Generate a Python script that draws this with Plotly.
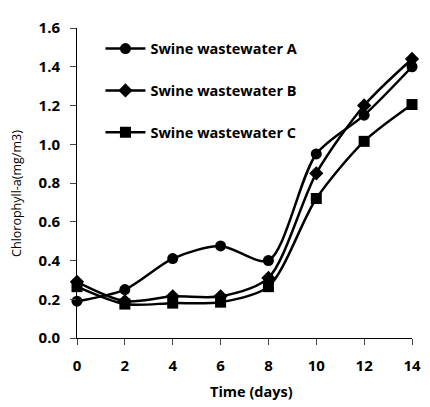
import plotly.graph_objects as go

days = [0, 2, 4, 6, 8, 10, 12, 14]
series_a = [0.19, 0.25, 0.41, 0.475, 0.40, 0.95, 1.15, 1.40]
series_b = [0.29, 0.19, 0.215, 0.215, 0.31, 0.85, 1.20, 1.44]
series_c = [0.265, 0.175, 0.18, 0.185, 0.265, 0.72, 1.015, 1.205]
names = ["Swine wastewater A", "Swine wastewater B", "Swine wastewater C"]
y_ticks = [0.0, 0.2, 0.4, 0.6, 0.8, 1.0, 1.2, 1.4, 1.6]
x_ticks = [0, 2, 4, 6, 8, 10, 12, 14]
x_title = "Time (days)"
y_title = "Chlorophyll-a(mg/m3)"

fig = go.Figure()
for i, (ys, nm, sym, sz) in enumerate([(series_a, names[0], "circle", 11),
                                       (series_b, names[1], "diamond", 11),
                                       (series_c, names[2], "square", 11)]):
    fig.add_trace(go.Scatter(
        x=days, y=ys, name=nm, mode="lines+markers", legendgroup=f"g{i}",
        line=dict(color="black", width=2.5, shape="spline", smoothing=0.8),
        marker=dict(symbol=sym, size=sz, color="black"),
        cliponaxis=False,
    ))

font_family = "Open Sans, Lato, sans-serif"
fig.update_layout(
    width=422, height=399,
    margin=dict(l=69, r=12, t=9, b=69),
    paper_bgcolor="white", plot_bgcolor="white",
    font=dict(family=font_family, color="black"),
    showlegend=True,
    legend=dict(x=0.07, y=0.985, xanchor="left", yanchor="top",
                bgcolor="rgba(0,0,0,0)", itemwidth=40,
                font=dict(size=14.5, family=font_family, weight="bold"),
                tracegroupgap=20),
    xaxis=dict(range=[0, 14], tickvals=x_ticks, ticks="outside", ticklen=6,
               showline=True, linecolor="black", linewidth=1, showgrid=False,
               zeroline=False, tickfont=dict(size=15, weight="bold"),
               ticklabelstandoff=8),
    yaxis=dict(range=[0, 1.6], tickvals=y_ticks, tickformat=".1f", ticks="outside", ticklen=6,
               showline=True, linecolor="black", linewidth=1, showgrid=False,
               zeroline=False, tickfont=dict(size=15, weight="bold"),
               ticklabelstandoff=7, ticklabeloverflow="allow"),
    annotations=[
        dict(text=x_title, xref="paper", yref="paper", x=0.522, y=-0.171,
             xanchor="center", yanchor="middle", showarrow=False,
             font=dict(size=14.5, weight="bold")),
        dict(text=y_title, xref="paper", yref="paper", x=-0.179, y=0.465,
             xanchor="center", yanchor="middle", showarrow=False, textangle=-90,
             font=dict(size=12.5)),
    ],
)
fig.write_html("out.html")
